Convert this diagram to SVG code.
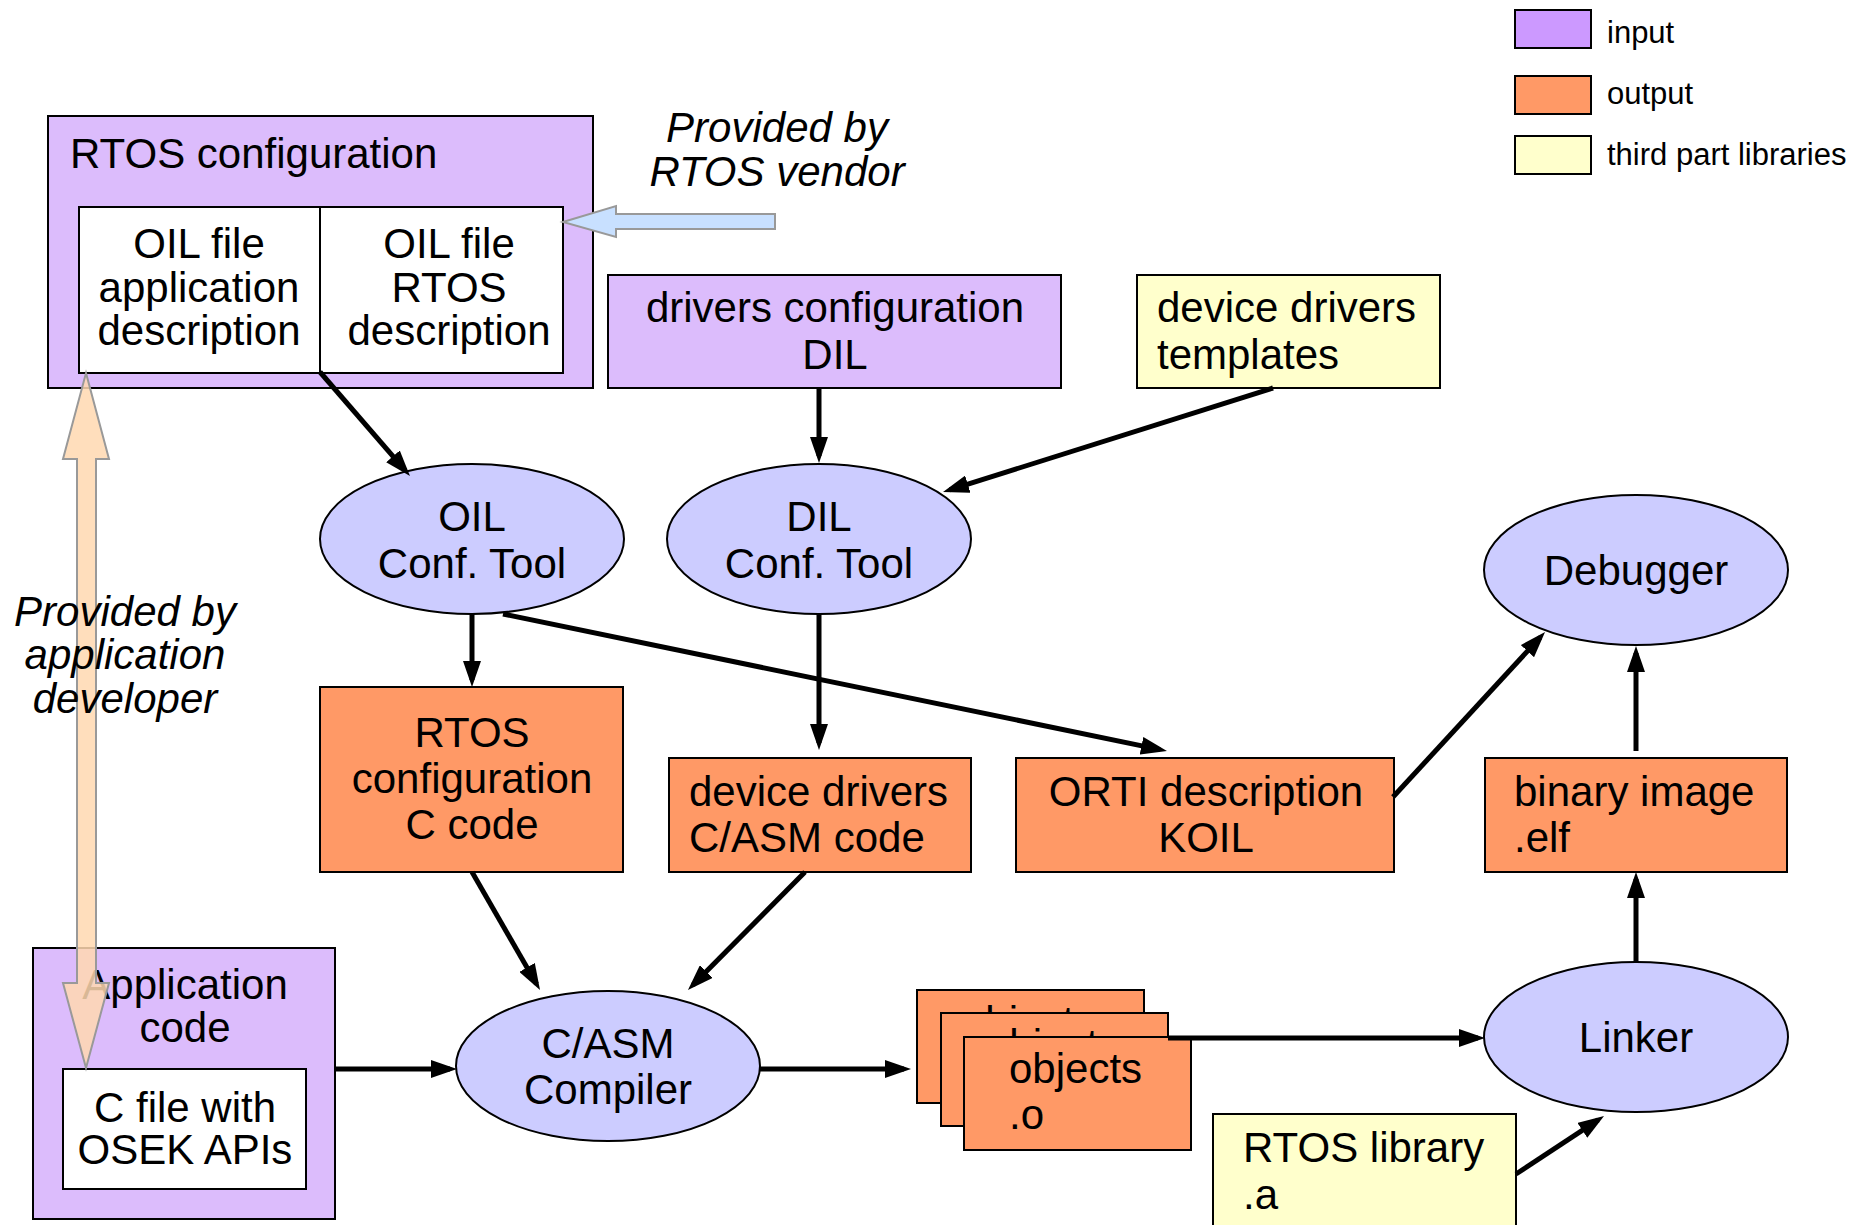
<svg xmlns="http://www.w3.org/2000/svg" width="1872" height="1225" viewBox="0 0 1872 1225">
<style>
.t{font-family:"Liberation Sans",Arial,Helvetica,sans-serif;font-size:42px;fill:#000}
.c{text-anchor:middle}
.i{font-style:italic}
.lg{font-size:31px}
.b{stroke:#000;stroke-width:2}
.in{fill:#DCBCFC}
.sw{fill:#CC99FF}
.out{fill:#FF9966}
.lib{fill:#FFFFCC}
.tool{fill:#CCCCFF}
.w{fill:#FFFFFF}
.conn{stroke:#000;stroke-width:5;fill:none;marker-end:url(#ah)}
.big{stroke:#999999;stroke-width:2;stroke-linejoin:miter}
</style>
<defs>
<marker id="ah" markerUnits="userSpaceOnUse" markerWidth="27" markerHeight="18" refX="19" refY="9" orient="auto">
<path d="M0,0 L26,9 L0,18 z" fill="#000"/>
</marker>
</defs>
<rect width="1872" height="1225" fill="#FFFFFF"/>

<g id="legend">
<rect class="b sw" x="1515" y="10" width="76" height="38"/>
<rect class="b out" x="1515" y="76" width="76" height="38"/>
<rect class="b lib" x="1515" y="136" width="76" height="38"/>
<text class="t lg" x="1607" y="43">input</text>
<text class="t lg" x="1607" y="104">output</text>
<text class="t lg" x="1607" y="165">third part libraries</text>
</g>

<g id="rtos-configuration">
<rect class="b in" x="48" y="116" width="545" height="272"/>
<text class="t" x="70" y="168">RTOS configuration</text>
<g id="oil-app">
<rect class="b w" x="79" y="207" width="241" height="166"/>
<text class="t c" x="199" y="258">OIL file</text>
<text class="t c" x="199" y="302">application</text>
<text class="t c" x="199" y="345">description</text>
</g>
<g id="oil-rtos">
<rect class="b w" x="320" y="207" width="243" height="166"/>
<text class="t c" x="449" y="258">OIL file</text>
<text class="t c" x="449" y="302">RTOS</text>
<text class="t c" x="449" y="345">description</text>
</g>
</g>

<g id="drivers-configuration">
<rect class="b in" x="608" y="275" width="453" height="113"/>
<text class="t c" x="835" y="322">drivers configuration</text>
<text class="t c" x="835" y="369">DIL</text>
</g>

<g id="device-drivers-templates">
<rect class="b lib" x="1137" y="275" width="303" height="113"/>
<text class="t" x="1157" y="322">device drivers</text>
<text class="t" x="1157" y="369">templates</text>
</g>

<g id="oil-tool">
<ellipse class="b tool" cx="472" cy="539" rx="152" ry="75"/>
<text class="t c" x="472" y="531">OIL</text>
<text class="t c" x="472" y="578">Conf. Tool</text>
</g>

<g id="dil-tool">
<ellipse class="b tool" cx="819" cy="539" rx="152" ry="75"/>
<text class="t c" x="819" y="531">DIL</text>
<text class="t c" x="819" y="578">Conf. Tool</text>
</g>

<g id="debugger">
<ellipse class="b tool" cx="1636" cy="570" rx="152" ry="75"/>
<text class="t c" x="1636" y="585">Debugger</text>
</g>

<g id="rtos-c-code">
<rect class="b out" x="320" y="687" width="303" height="185"/>
<text class="t c" x="472" y="747">RTOS</text>
<text class="t c" x="472" y="793">configuration</text>
<text class="t c" x="472" y="839">C code</text>
</g>

<g id="drivers-code">
<rect class="b out" x="669" y="758" width="302" height="114"/>
<text class="t" x="689" y="806">device drivers</text>
<text class="t" x="689" y="852">C/ASM code</text>
</g>

<g id="orti">
<rect class="b out" x="1016" y="758" width="378" height="114"/>
<text class="t c" x="1206" y="806">ORTI description</text>
<text class="t c" x="1206" y="852">KOIL</text>
</g>

<g id="binary-image">
<rect class="b out" x="1485" y="758" width="302" height="114"/>
<text class="t" x="1514" y="806">binary image</text>
<text class="t" x="1514" y="852">.elf</text>
</g>

<g id="application-code">
<rect class="b in" x="33" y="948" width="302" height="271"/>
<text class="t c" x="185" y="999">Application</text>
<text class="t c" x="185" y="1042">code</text>
<g id="c-file">
<rect class="b w" x="63" y="1069" width="243" height="120"/>
<text class="t c" x="185" y="1122">C file with</text>
<text class="t c" x="185" y="1164">OSEK APIs</text>
</g>
</g>

<g id="compiler">
<ellipse class="b tool" cx="608" cy="1066" rx="152" ry="75"/>
<text class="t c" x="608" y="1058">C/ASM</text>
<text class="t c" x="608" y="1104">Compiler</text>
</g>

<g id="objects">
<rect class="b out" x="917" y="990" width="227" height="113"/>
<text class="t" x="962" y="1036">objects</text>
<rect class="b out" x="941" y="1013" width="227" height="113"/>
<text class="t" x="986" y="1059">objects</text>
<rect class="b out" x="964" y="1037" width="227" height="113"/>
<text class="t" x="1009" y="1083">objects</text>
<text class="t" x="1009" y="1129">.o</text>
</g>

<g id="linker">
<ellipse class="b tool" cx="1636" cy="1037" rx="152" ry="75"/>
<text class="t c" x="1636" y="1052">Linker</text>
</g>

<g id="rtos-library">
<rect class="b lib" x="1213" y="1114" width="303" height="120"/>
<text class="t" x="1243" y="1162">RTOS library</text>
<text class="t" x="1243" y="1209">.a</text>
</g>

<g id="connectors">
<line class="conn" x1="320" y1="372" x2="405.4" y2="470.7"/>
<line class="conn" x1="819" y1="388" x2="819" y2="456"/>
<line class="conn" x1="1273" y1="388" x2="949.7" y2="489.9"/>
<line class="conn" x1="472" y1="614" x2="472" y2="680"/>
<line class="conn" x1="503" y1="614" x2="1160.1" y2="749.6"/>
<line class="conn" x1="819" y1="614" x2="819" y2="743"/>
<line class="conn" x1="472" y1="872" x2="536.5" y2="983.9"/>
<line class="conn" x1="805" y1="872" x2="692.9" y2="985"/>
<line class="conn" x1="336" y1="1069" x2="450" y2="1069"/>
<line class="conn" x1="760" y1="1069" x2="904" y2="1069"/>
<line class="conn" x1="1168" y1="1038" x2="1478" y2="1038"/>
<line class="conn" x1="1516" y1="1174" x2="1598.2" y2="1119.9"/>
<line class="conn" x1="1636" y1="962" x2="1636" y2="879"/>
<line class="conn" x1="1636" y1="751" x2="1636" y2="653"/>
<line class="conn" x1="1393" y1="797" x2="1540.3" y2="637.2"/>
</g>

<g id="vendor-arrow">
<polygon class="big" fill="#C8E0FF" points="563,222 616,206 616,214 775,214 775,229 616,229 616,237"/>
<text class="t c i" x="777" y="142">Provided by</text>
<text class="t c i" x="777" y="186">RTOS vendor</text>
</g>

<g id="developer-arrow">
<polygon class="big" fill="#FFD8B0" fill-opacity="0.85" points="86,373 109,459 96,459 96,983 109,983 86,1068 63,983 77,983 77,459 63,459"/>
<text class="t c i" x="125" y="626">Provided by</text>
<text class="t c i" x="125" y="669">application</text>
<text class="t c i" x="125" y="713">developer</text>
</g>
</svg>
